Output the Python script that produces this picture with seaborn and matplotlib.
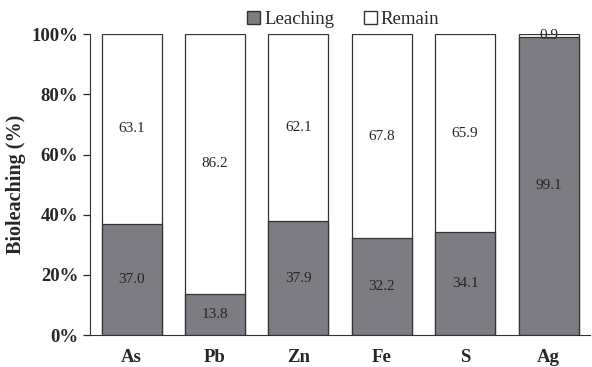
import numpy as np
import pandas as pd
import seaborn as sns
import matplotlib.pyplot as plt
from matplotlib.patches import Patch
from matplotlib.ticker import PercentFormatter

elements = ["As", "Pb", "Zn", "Fe", "S", "Ag"]
leaching = [37.0, 13.8, 37.9, 32.2, 34.1, 99.1]
remain = [63.1, 86.2, 62.1, 67.8, 65.9, 0.9]

df = pd.DataFrame({"element": elements, "leaching": leaching, "remain": remain})
df["total"] = df["leaching"] + df["remain"]

sns.set_style("ticks")
plt.rcParams["font.family"] = ["Liberation Serif", "DejaVu Serif"]

fig = plt.figure(figsize=(5.92, 3.67), dpi=100)
ax = fig.add_axes([0.152, 0.087, 0.845, 0.82])

gray = "#7c7c82"
sns.barplot(data=df, x="element", y="total", color="white", edgecolor="#333333",
            linewidth=0.9, width=0.72, ax=ax, saturation=1)
sns.barplot(data=df, x="element", y="leaching", color=gray, edgecolor="#333333",
            linewidth=0.9, width=0.72, ax=ax, saturation=1)

for i, (l, r) in enumerate(zip(leaching, remain)):
    ax.text(i, l / 2, f"{l:.1f}", ha="center", va="center", fontsize=11)
    if r < 5:
        ax.text(i, 99.6, f"{r:.1f}", ha="center", va="center", fontsize=11)
    else:
        ax.text(i, l + r / 2, f"{r:.1f}", ha="center", va="center", fontsize=11)

ax.set_ylim(0, 100)
ax.set_xlim(-0.5, 5.5)
ax.yaxis.set_major_locator(plt.MultipleLocator(20))
ax.yaxis.set_major_formatter(PercentFormatter(decimals=0))
ax.set_xlabel("")
ax.set_ylabel("Bioleaching (%)", fontsize=14.5, fontweight="bold")
ax.tick_params(axis="y", labelsize=13.5, length=5, width=0.9)
ax.tick_params(axis="x", labelsize=13.5, length=0, pad=10)
for lab in ax.get_xticklabels() + ax.get_yticklabels():
    lab.set_fontweight("bold")
sns.despine(ax=ax, top=True, right=True)
ax.spines["left"].set_color("#333333")
ax.spines["bottom"].set_color("#333333")

handles = [Patch(facecolor=gray, edgecolor="#333333", label="Leaching"),
           Patch(facecolor="white", edgecolor="#333333", label="Remain")]
fig.legend(handles=handles, loc="upper center", bbox_to_anchor=(0.58, 1.015), ncol=2,
           frameon=False, fontsize=13.5, handlelength=0.7, handleheight=0.7,
           handletextpad=0.2, columnspacing=1.6)

fig.savefig("out.png", dpi=100)
